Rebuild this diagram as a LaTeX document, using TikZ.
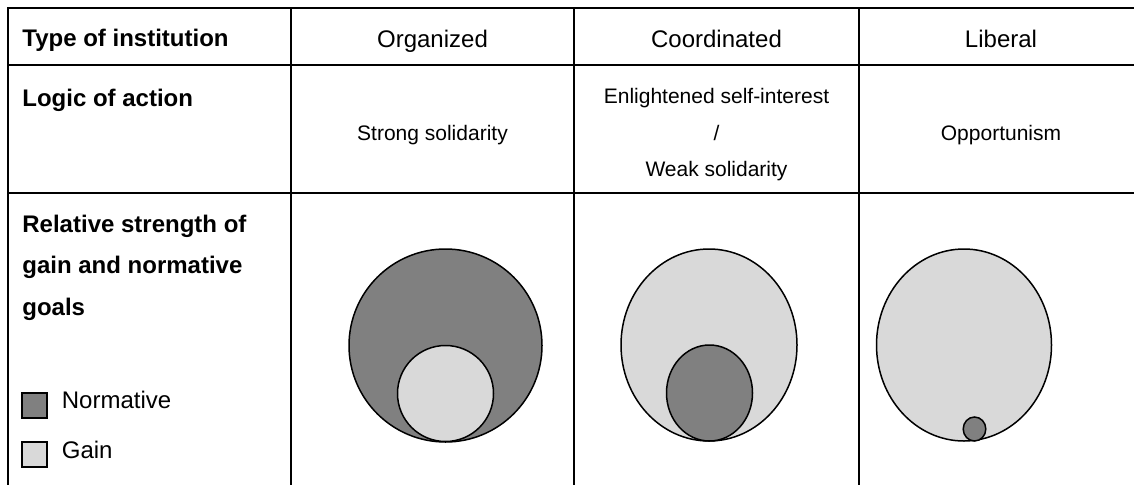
\documentclass[tikz,border=0pt]{standalone}
\usepackage{fontspec}
\setmainfont{Liberation Sans}
\definecolor{normgray}{gray}{0.5}
\definecolor{gaingray}{gray}{0.85}

\begin{document}
\begin{tikzpicture}[x=0.5pt,y=0.5pt]
        \tikzstyle{every node}=[inner sep=0pt, font=\fontsize{12}{14}\selectfont]
        \tikzstyle{rule}=[line width=1pt]
        \tikzstyle{head}=[anchor=base west, font=\bfseries\fontsize{12}{14}\selectfont]
        \tikzstyle{col}=[anchor=base]
        \tikzstyle{cell}=[anchor=base, font=\fontsize{10.5}{12}\selectfont]
        \tikzstyle{norm}=[fill=normgray, draw=black, line width=0.75pt]
        \tikzstyle{gain}=[fill=gaingray, draw=black, line width=0.75pt]
        \useasboundingbox (0,0) rectangle (1134,484);
        % table rules (open to the right and at the bottom)
        \draw[rule] (1145,476) -- (8,476) -- (8,-5);
        \draw[rule] (8,419) -- (1145,419);
        \draw[rule] (8,291) -- (1145,291);
        \foreach \x in {291,574,859} \draw[rule] (\x,476) -- (\x,-5);
        % first row
        \node[head] (type) at (22,438) {Type of institution};
        \node[col] (org) at (432.5,436.5) {Organized};
        \node[col] (coord) at (716.5,436.5) {Coordinated};
        \node[col] (lib) at (1001,436.5) {Liberal};
        % second row
        \node[head] (logic) at (22,378) {Logic of action};
        \node[cell] (strong) at (432.5,344) {Strong solidarity};
        \node[cell] (enl) at (716.5,380.5) {Enlightened self-interest};
        \node[cell] (slash) at (716.5,344) {/};
        \node[cell] (weak) at (716.5,308) {Weak solidarity};
        \node[cell] (opp) at (1001,344) {Opportunism};
        % third row
        \node[head] (rel1) at (22,252) {Relative strength of};
        \node[head] (rel2) at (22,211) {gain and normative};
        \node[head] (rel3) at (22,169) {goals};
        \draw[norm] (22,66) rectangle (47,91);
        \node[anchor=base west] (normlbl) at (61.5,76) {Normative};
        \draw[gain] (22,17) rectangle (47,42);
        \node[anchor=base west] (gainlbl) at (61.5,26) {Gain};
        % goal circles
        \draw[norm] (445.5,138.5) circle [radius=96.5];
        \draw[gain] (445.5,90.5) circle [radius=48];
        \draw[gain] (709,139) ellipse [x radius=88, y radius=96];
        \draw[norm] (709.5,91) ellipse [x radius=43, y radius=48];
        \draw[gain] (964,139) ellipse [x radius=87.5, y radius=96];
        \draw[norm] (974.5,55) ellipse [x radius=11.3, y radius=12];
\end{tikzpicture}
\end{document}
